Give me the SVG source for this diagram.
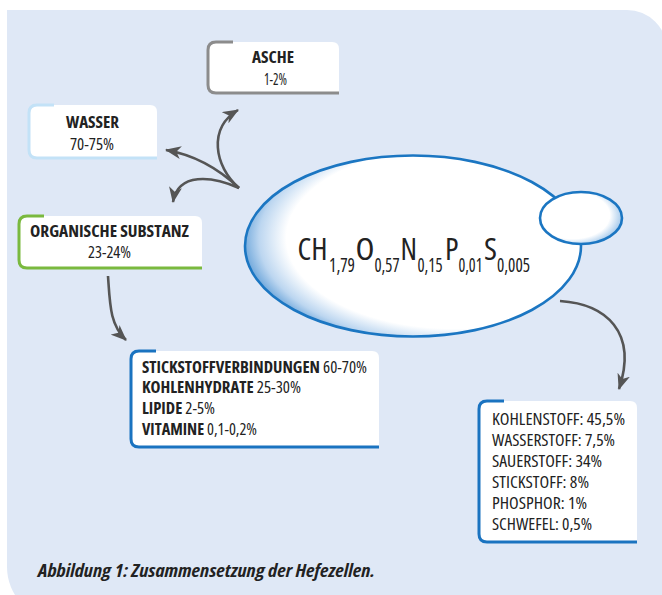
<svg xmlns="http://www.w3.org/2000/svg" width="662" height="595" viewBox="0 0 662 595">
<style>
text{font-family:"Open Sans","Liberation Sans",sans-serif;font-stretch:condensed;fill:#222}
.b{font-weight:bold}
.t{font-size:16px}
.box{fill:#fff}
.acc{fill:none;stroke-width:3;stroke-linecap:butt}
.con{fill:none;stroke:#555;stroke-width:2.6;marker-end:url(#ah)}
.f{font-size:31px}
.s{font-size:19px}
</style>
<defs>
<marker id="ah" viewBox="0 0 16 13" refX="15" refY="6.5" markerWidth="16" markerHeight="13" markerUnits="userSpaceOnUse" orient="auto">
<path d="M0,0 L16,6.5 L0,13 L4.5,6.5 Z" fill="#555"/>
</marker>
<radialGradient id="cell" cx="0.62" cy="0.46" r="0.66" fx="0.64" fy="0.44">
<stop offset="0" stop-color="#fff"/>
<stop offset="0.76" stop-color="#fff"/>
<stop offset="0.88" stop-color="#bcd6f0"/>
<stop offset="1" stop-color="#3b88cd"/>
</radialGradient>
<radialGradient id="bud" cx="0.4" cy="0.45" r="0.6">
<stop offset="0" stop-color="#fff"/>
<stop offset="0.75" stop-color="#fff"/>
<stop offset="1" stop-color="#a8cbec"/>
</radialGradient>
</defs>
<rect width="662" height="595" fill="#fff"/>
<path d="M7,10 H627 A40,40 0 0 1 667,50 V620 H60 A53,53 0 0 1 7,567 Z" fill="#dfe8f6"/>

<g id="connectors">
<path class="con" d="M239,188 C214,166 208,128 238,110"/>
<path class="con" d="M239,188 C220,170 195,155 166,150"/>
<path class="con" d="M239,188 C212,176 178,172 173,202"/>
<path class="con" d="M108,276 C110,305 110,325 126,340"/>
<path class="con" d="M560,301 C606,304 638,332 619,389"/>
</g>

<g id="cell">
<ellipse cx="413" cy="246" rx="168" ry="90.5" fill="url(#cell)" stroke="#1b76c2" stroke-width="2.6"/>
<ellipse cx="581" cy="218" rx="41" ry="26" fill="url(#bud)" stroke="#1b76c2" stroke-width="2.6"/>
<text class="f" x="297.5" y="260" textLength="30" lengthAdjust="spacingAndGlyphs">CH</text>
<text class="s" x="329" y="272" textLength="26" lengthAdjust="spacingAndGlyphs">1,79</text>
<text class="f" x="355.5" y="260" textLength="19" lengthAdjust="spacingAndGlyphs">O</text>
<text class="s" x="374.5" y="272" textLength="25" lengthAdjust="spacingAndGlyphs">0,57</text>
<text class="f" x="400.5" y="260" textLength="16.5" lengthAdjust="spacingAndGlyphs">N</text>
<text class="s" x="417.5" y="272" textLength="25" lengthAdjust="spacingAndGlyphs">0,15</text>
<text class="f" x="445" y="260" textLength="13.5" lengthAdjust="spacingAndGlyphs">P</text>
<text class="s" x="458.5" y="272" textLength="24" lengthAdjust="spacingAndGlyphs">0,01</text>
<text class="f" x="484" y="260" textLength="13" lengthAdjust="spacingAndGlyphs">S</text>
<text class="s" x="497" y="272" textLength="33" lengthAdjust="spacingAndGlyphs">0,005</text>
</g>

<g id="asche">
<path class="box" d="M216,42 H332 Q339,42 339,49 V93 H216 Q208,93 208,85 V50 Q208,42 216,42 Z"/>
<path class="acc" stroke="#8c8c8c" d="M233,42 H216 Q208,42 208,50 V85 Q208,93 216,93 H339"/>
<text class="t b" x="252" y="63" textLength="42" lengthAdjust="spacingAndGlyphs">ASCHE</text>
<text class="t" x="264" y="85" textLength="23" lengthAdjust="spacingAndGlyphs">1-2%</text>
</g>

<g id="wasser">
<path class="box" d="M37,105 H150 Q157,105 157,112 V158 H37 Q29,158 29,150 V113 Q29,105 37,105 Z"/>
<path class="acc" stroke="#c3e2f7" d="M54,105 H37 Q29,105 29,113 V150 Q29,158 37,158 H157"/>
<text class="t b" x="66" y="128" textLength="53" lengthAdjust="spacingAndGlyphs">WASSER</text>
<text class="t" x="70" y="150" textLength="44" lengthAdjust="spacingAndGlyphs">70-75%</text>
</g>

<g id="organisch">
<path class="box" d="M27,216 H195 Q202,216 202,223 V268 H27 Q19,268 19,260 V224 Q19,216 27,216 Z"/>
<path class="acc" stroke="#7ab93e" d="M44,216 H27 Q19,216 19,224 V260 Q19,268 27,268 H202"/>
<text class="t b" x="30" y="237" textLength="159" lengthAdjust="spacingAndGlyphs">ORGANISCHE SUBSTANZ</text>
<text class="t" x="88" y="258" textLength="43" lengthAdjust="spacingAndGlyphs">23-24%</text>
</g>

<g id="bestandteile">
<path class="box" d="M139,351 H372 Q379,351 379,358 V447 H139 Q131,447 131,439 V359 Q131,351 139,351 Z"/>
<path class="acc" stroke="#1a73c0" d="M156,351 H139 Q131,351 131,359 V439 Q131,447 139,447 H379"/>
<text class="t" x="142" y="373" textLength="225" lengthAdjust="spacingAndGlyphs"><tspan class="b">STICKSTOFFVERBINDUNGEN</tspan> 60-70%</text>
<text class="t" x="142" y="393" textLength="159" lengthAdjust="spacingAndGlyphs"><tspan class="b">KOHLENHYDRATE</tspan> 25-30%</text>
<text class="t" x="142" y="414" textLength="73" lengthAdjust="spacingAndGlyphs"><tspan class="b">LIPIDE</tspan> 2-5%</text>
<text class="t" x="142" y="435" textLength="115" lengthAdjust="spacingAndGlyphs"><tspan class="b">VITAMINE</tspan> 0,1-0,2%</text>
</g>

<g id="elemente">
<path class="box" d="M487,401 H630 Q637,401 637,408 V542 H487 Q479,542 479,534 V409 Q479,401 487,401 Z"/>
<path class="acc" stroke="#1a73c0" d="M504,401 H487 Q479,401 479,409 V534 Q479,542 487,542 H637"/>
<text class="t" x="492" y="425" textLength="133" lengthAdjust="spacingAndGlyphs">KOHLENSTOFF: 45,5%</text>
<text class="t" x="492" y="446" textLength="123" lengthAdjust="spacingAndGlyphs">WASSERSTOFF: 7,5%</text>
<text class="t" x="492" y="467" textLength="110" lengthAdjust="spacingAndGlyphs">SAUERSTOFF: 34%</text>
<text class="t" x="492" y="488" textLength="97" lengthAdjust="spacingAndGlyphs">STICKSTOFF: 8%</text>
<text class="t" x="492" y="509" textLength="95" lengthAdjust="spacingAndGlyphs">PHOSPHOR: 1%</text>
<text class="t" x="492" y="530" textLength="100" lengthAdjust="spacingAndGlyphs">SCHWEFEL: 0,5%</text>
</g>

<text class="b" x="38" y="577" style="font-size:18px;font-style:italic" textLength="337" lengthAdjust="spacingAndGlyphs">Abbildung 1: Zusammensetzung der Hefezellen.</text>
</svg>
